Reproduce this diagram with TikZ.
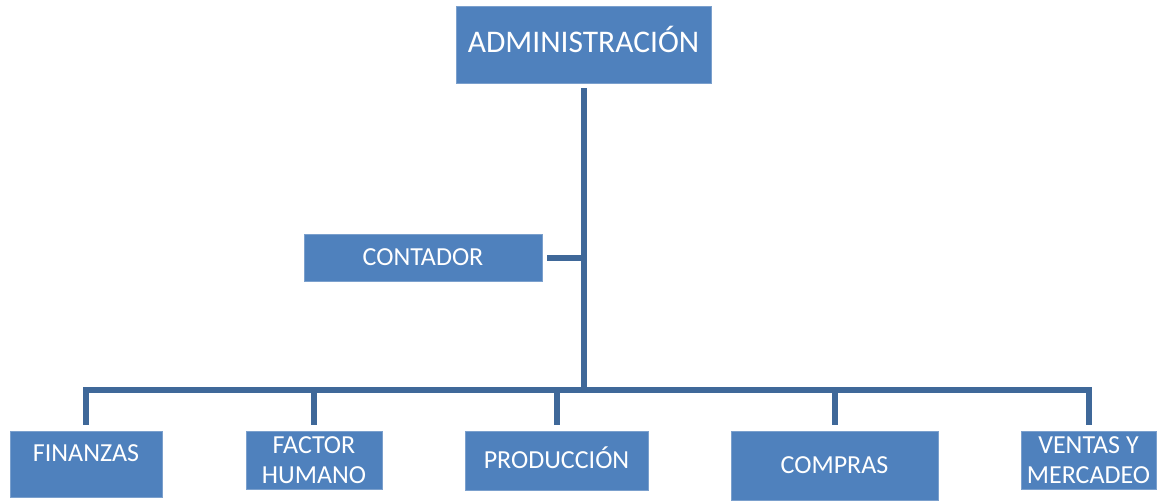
\documentclass[tikz,border=0pt]{standalone}
\usepackage{fontspec}
\setmainfont{Carlito}
\usetikzlibrary{calc}
\definecolor{boxblue}{HTML}{4F81BD}
\definecolor{lineblue}{HTML}{3F6899}

\begin{document}
\begin{tikzpicture}[x=0.5pt, y=-0.5pt, every node/.style={font=\fontsize{13pt}{14.8pt}\selectfont, text=white}]

		\useasboundingbox (0,0) rectangle (1160,500);
		\tikzset{unit/.style={fill=boxblue, draw=boxblue!75!white, line width=0.4pt, inner sep=0pt, align=center},
		         oneline/.style={unit, text height=8.4pt, text depth=0pt},
		         conn/.style={draw=lineblue, line width=3pt}}

		% head and staff
		\node[oneline, minimum width=127.5pt, minimum height=38.5pt, font=\fontsize{15.75pt}{18pt}\selectfont] (admin) at (583.5,44.5) {ADMINISTRACIÓN};
		\node[oneline, minimum width=119pt, minimum height=23.5pt] (cont) at (423,257.5) {CONTADOR};

		% departments
		\node[unit, minimum width=76pt, text height=15.35pt, text depth=17.65pt] (fin) at (86,464) {FINANZAS};
		\node[unit, minimum width=68pt, minimum height=29pt] (factor) at (314,460) {FACTOR\\HUMANO};
		\node[oneline, minimum width=91.5pt, minimum height=29.5pt] (prod) at (556.5,460.5) {PRODUCCIÓN};
		\node[oneline, minimum width=103.5pt, minimum height=34.5pt] (compras) at (834.5,465.5) {COMPRAS};
		\node[unit, minimum width=67.5pt, minimum height=29pt] (ventas) at (1088.5,460) {VENTAS Y\\MERCADEO};

		% connectors
		\coordinate (bus) at (583,390);
		\draw[conn] ([yshift=-2.5pt]admin.south) -- (admin.south |- bus);
		\draw[conn] ([xshift=2.5pt]cont.east) -- (cont.east -| bus);
		\draw[conn] ([yshift=3pt]fin.north) |- (bus) -| ([yshift=3pt]ventas.north);
		\foreach \n in {factor,prod,compras}{\draw[conn] ([yshift=3pt]\n.north) -- (\n.north |- bus);}
	\end{tikzpicture}
\end{document}
